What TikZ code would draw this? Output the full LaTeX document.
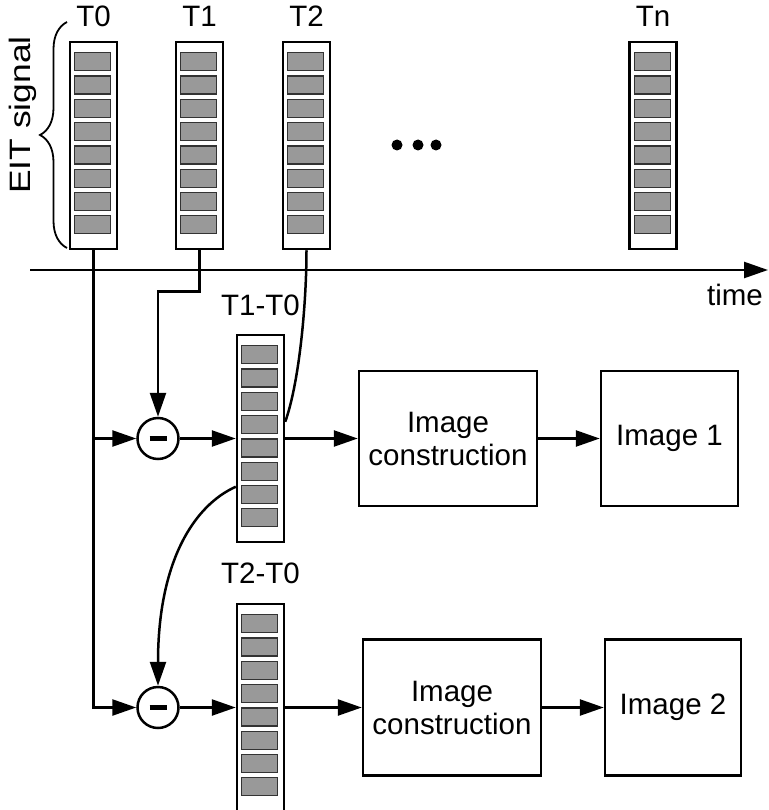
\documentclass[tikz,border=0pt]{standalone}
\usepackage{fontspec}
\setmainfont{Liberation Sans}
\usetikzlibrary{arrows.meta,decorations.pathreplacing,calc}
\newcommand\colcells[1]{\foreach \k in {0,...,7}{\draw[cell] ($(#1.north west)+(6,12+23.3*\k)$) rectangle ++(36,18);}}
\begin{document}
\begin{tikzpicture}[x=1pt,y=-1pt, font=\fontsize{29.5}{33}\selectfont,
  line width=2.5pt,
  col/.style={draw, line width=2.5pt, minimum width=47pt, minimum height=207pt, inner sep=0pt},
  cell/.style={draw=black!80, fill=black!40, line width=1.2pt},
  box/.style={draw, line width=2.5pt, align=center, inner sep=0pt},
  sub/.style={draw, circle, minimum size=41pt, inner sep=0pt, line width=2.5pt},
  arr/.style={-{Triangle[length=24pt,width=16pt]}},
  lbl/.style={anchor=base, inner sep=0pt}]
\useasboundingbox (0,0) rectangle (768,810);

% signal columns
\node[col] (c0) at (93.5,145.5) {};
\node[col] (c1) at (199.5,145.5) {};
\node[col] (c2) at (306.5,145.5) {};
\node[col] (cn) at (653,145.5) {};
\node[col] (d1) at (260.5,438.5) {};
\node[col] (d2) at (260.5,707.5) {};
\colcells{c0}\colcells{c1}\colcells{c2}\colcells{cn}\colcells{d1}\colcells{d2}

% labels
\node[lbl] (l0) at (93.5,27) {T0};
\node[lbl] (l1) at (199.5,27) {T1};
\node[lbl] (l2) at (306.5,27) {T2};
\node[lbl] (ln) at (653,27) {Tn};
\node[lbl] (ld1) at (260.5,315) {T1-T0};
\node[lbl] (ld2) at (260.5,583) {T2-T0};
\node[lbl] (tl) at (735,305) {time};
\node[lbl, rotate=90] (eit) at (30,115) {\scalebox{1.2}[1]{EIT signal}};

% brace
\draw[line width=1.8pt, decorate, decoration={brace, amplitude=27pt}] (67,248) -- (67,22);

% dots
\fill (397,145) circle (5.5);
\fill (418,145) circle (5.5);
\fill (436,145) circle (5.5);

% subtractors
\node[sub] (m1) at (158,438.5) {\rule{17pt}{5pt}};
\node[sub] (m2) at (158,707.5) {\rule{17pt}{5pt}};

% boxes
\node[box, minimum width=178pt, minimum height=135pt] (ic1) at (448,438.5) {Image\\construction};
\node[box, minimum width=137pt, minimum height=135pt] (im1) at (669.5,438.5) {Image 1};
\node[box, minimum width=178pt, minimum height=136pt] (ic2) at (452,707.5) {Image\\construction};
\node[box, minimum width=136pt, minimum height=136pt] (im2) at (673,707.5) {Image 2};

% time axis
\coordinate (ts) at (30,270);
\coordinate (te) at (768,270);
\draw[arr] (ts) -- (te);

% connectors
\draw[arr] (c0.south) |- (m2.west);
\draw[arr] (c0.south |- m1.west) -- (m1.west);
\draw[arr] (c1.south) -- ++(0,41) -| (m1.north);
\coordinate (e2) at ($(d1.north east)+(0,88)$);
\draw (c2.south) .. controls (306.5,300) and (300,380) .. (e2);
\coordinate (s3) at ($(d1.north west)+(0,153)$);
\draw[arr] (s3) .. controls (195,505) and (158,560) .. (m2.north);

\draw[arr] (m1.east) -- (d1.west);
\draw[arr] (d1.east) -- (ic1.west);
\draw[arr] (ic1.east) -- (im1.west);
\draw[arr] (m2.east) -- (d2.west);
\draw[arr] (d2.east) -- (ic2.west);
\draw[arr] (ic2.east) -- (im2.west);
\end{tikzpicture}
\end{document}
